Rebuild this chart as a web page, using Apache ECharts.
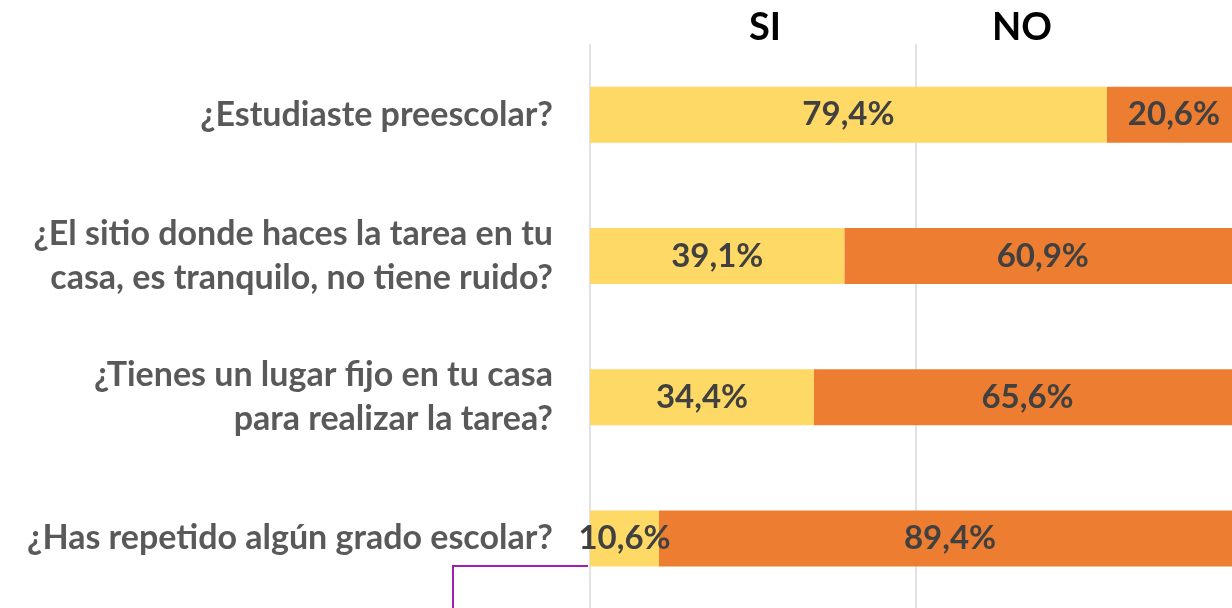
<!DOCTYPE html>
<html><head><meta charset="utf-8">
<script src="https://cdn.jsdelivr.net/npm/echarts@6/dist/echarts.min.js"></script>
<style>html,body{margin:0;padding:0;background:#fff}#c{width:1232px;height:608px}</style>
</head><body><div id="c"></div>
<script>
const categories = [
  '¿Estudiaste preescolar?',
  '¿El sitio donde haces la tarea en tu\ncasa, es tranquilo, no tiene ruido?',
  '¿Tienes un lugar fijo en tu casa\npara realizar la tarea?',
  '¿Has repetido algún grado escolar?'
];
const siValues = [79.4, 39.1, 34.4, 10.6];
const noValues = [20.6, 60.9, 65.6, 89.4];
const seriesNames = ['SI', 'NO'];

const FONT = 'Lato';
const W = 'bold';
const chart = echarts.init(document.getElementById('c'));
const fmt = p => p.value.toFixed(1).replace('.', ',') + '%';
const labelStyle = {show: true, position: 'inside', formatter: fmt, color: '#404040', fontFamily: FONT, fontWeight: W, fontSize: 33};
chart.setOption({
  animation: false,
  grid: {left: 590, top: 44, width: 651, height: 565, containLabel: false, outerBoundsMode: 'none'},
  xAxis: {type: 'value', min: 0, max: 100, interval: 50,
    axisLabel: {show: false}, axisLine: {show: false}, axisTick: {show: false},
    splitLine: {show: true, lineStyle: {color: '#D9D9D9', width: 1.5}}},
  yAxis: {type: 'category', data: categories, inverse: true,
    axisLine: {show: false}, axisTick: {show: false},
    axisLabel: {margin: 37, color: '#595959', fontFamily: FONT, fontWeight: W, fontSize: 34, lineHeight: 44, align: 'right'}},
  series: [
    {name: seriesNames[0], type: 'bar', stack: 't', data: siValues, barWidth: 56,
     itemStyle: {color: '#FFD966'}, label: labelStyle},
    {name: seriesNames[1], type: 'bar', stack: 't', data: noValues, barWidth: 56,
     itemStyle: {color: '#ED7D31'}, label: labelStyle}
  ],
  graphic: [
    {type: 'text', x: 765, y: 28, style: {text: seriesNames[0], font: W + ' 38px ' + FONT, fill: '#000', textAlign: 'center', textVerticalAlign: 'middle'}},
    {type: 'text', x: 1022, y: 28, style: {text: seriesNames[1], font: W + ' 38px ' + FONT, fill: '#000', textAlign: 'center', textVerticalAlign: 'middle'}},
    {type: 'polyline', shape: {points: [[588, 566], [453, 566], [453, 610]]}, style: {stroke: '#A020B0', lineWidth: 2, fill: null}}
  ]
});
</script></body></html>
